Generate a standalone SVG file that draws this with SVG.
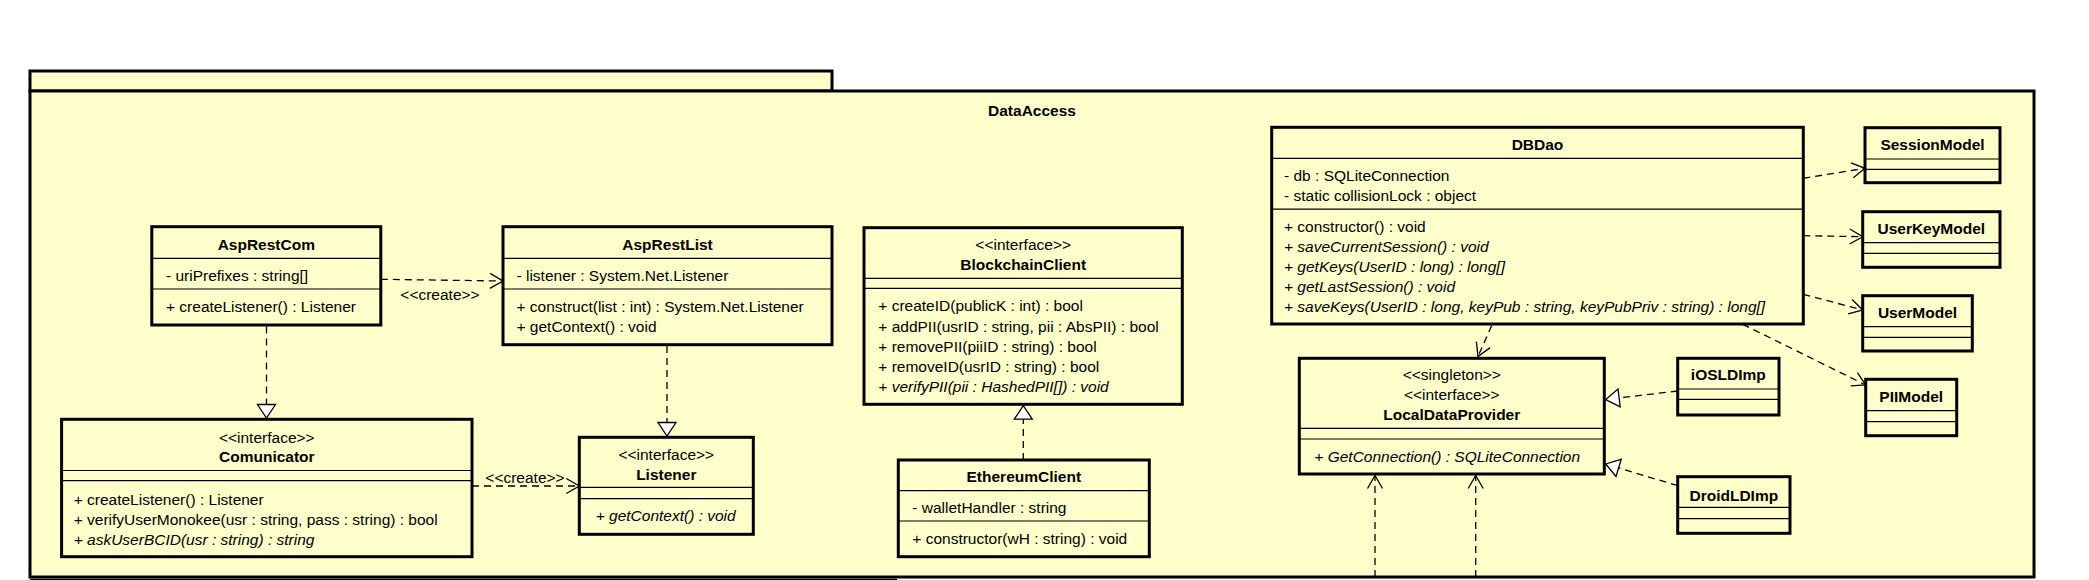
<svg xmlns="http://www.w3.org/2000/svg" width="2089" height="580" viewBox="0 0 2089 580">
<style>
.pkg{fill:#FFFFCC;stroke:#000;stroke-width:3}
.box{fill:#FFFFCC;stroke:#000;stroke-width:3}
.dv{stroke:#000;stroke-width:1.2;fill:none}
text{font-family:"Liberation Sans",Arial,sans-serif;font-size:15.5px;fill:#000}
.n{font-weight:bold;text-anchor:middle}
.c{text-anchor:middle}
.i{font-style:italic}
.dep{fill:none;stroke:#000;stroke-width:1.3;stroke-dasharray:7,5}
.mk{stroke:#000;stroke-width:1.3;stroke-dasharray:none}
</style>
<defs>
<marker id="open" markerUnits="userSpaceOnUse" markerWidth="20" markerHeight="20" refX="0" refY="0" orient="auto" style="overflow:visible"><path class="mk" d="M-13,-7.5 L0,0 L-13,7.5" fill="none"/></marker>
<marker id="tri" markerUnits="userSpaceOnUse" markerWidth="20" markerHeight="20" refX="0" refY="0" orient="auto" style="overflow:visible"><path class="mk" d="M-13.5,-9 L0,0 L-13.5,9 Z" fill="#fff"/></marker>
</defs>

<g id="DataAccess">
<rect class="pkg" x="30" y="71" width="802" height="20"/>
<rect class="pkg" x="30" y="91" width="2004" height="486"/>
<line x1="30" y1="579.5" x2="897" y2="579.5" stroke="#000" stroke-width="1.5"/>
<text class="n" x="1032" y="116">DataAccess</text>
</g>

<g id="AspRestCom">
<rect class="box" x="151.8" y="226.7" width="229" height="98.3"/>
<line class="dv" x1="151.8" y1="258.3" x2="380.8" y2="258.3"/>
<line class="dv" x1="151.8" y1="289" x2="380.8" y2="289"/>
<text class="n" x="266.3" y="249.8">AspRestCom</text>
<text x="166" y="281.3">- uriPrefixes : string[]</text>
<text x="166" y="312">+ createListener() : Listener</text>
</g>

<g id="AspRestList">
<rect class="box" x="503" y="226.7" width="329" height="118"/>
<line class="dv" x1="503" y1="258.3" x2="832" y2="258.3"/>
<line class="dv" x1="503" y1="289" x2="832" y2="289"/>
<text class="n" x="667.5" y="249.8">AspRestList</text>
<text x="516.5" y="281.3">- listener : System.Net.Listener</text>
<text x="516.5" y="312">+ construct(list : int) : System.Net.Listener</text>
<text x="516.5" y="332">+ getContext() : void</text>
</g>

<g id="Comunicator">
<rect class="box" x="61.6" y="419.3" width="410.4" height="137.4"/>
<line class="dv" x1="61.6" y1="470.5" x2="472" y2="470.5"/>
<line class="dv" x1="61.6" y1="480.7" x2="472" y2="480.7"/>
<text class="c" x="266.8" y="442.5">&lt;&lt;interface&gt;&gt;</text>
<text class="n" x="266.8" y="462">Comunicator</text>
<text x="73.7" y="504.7">+ createListener() : Listener</text>
<text x="73.7" y="524.7">+ verifyUserMonokee(usr : string, pass : string) : bool</text>
<text class="i" x="73.7" y="544.7">+ askUserBCID(usr : string) : string</text>
</g>

<g id="Listener">
<rect class="box" x="579.3" y="437.3" width="174" height="97"/>
<line class="dv" x1="579.3" y1="487.3" x2="753.3" y2="487.3"/>
<line class="dv" x1="579.3" y1="498.7" x2="753.3" y2="498.7"/>
<text class="c" x="666.3" y="459.6">&lt;&lt;interface&gt;&gt;</text>
<text class="n" x="666.3" y="480.2">Listener</text>
<text class="i" x="595.7" y="521.2">+ getContext() : void</text>
</g>

<g id="BlockchainClient">
<rect class="box" x="864" y="227.7" width="318.3" height="176.6"/>
<line class="dv" x1="864" y1="278.3" x2="1182.3" y2="278.3"/>
<line class="dv" x1="864" y1="288.3" x2="1182.3" y2="288.3"/>
<text class="c" x="1023.2" y="250.2">&lt;&lt;interface&gt;&gt;</text>
<text class="n" x="1023.2" y="269.8">BlockchainClient</text>
<text x="878.3" y="311.3">+ createID(publicK : int) : bool</text>
<text x="878.3" y="331.5">+ addPII(usrID : string, pii : AbsPII) : bool</text>
<text x="878.3" y="351.8">+ removePII(piiID : string) : bool</text>
<text x="878.3" y="371.8">+ removeID(usrID : string) : bool</text>
<text class="i" x="878.3" y="391.8">+ verifyPII(pii : HashedPII[]) : void</text>
</g>

<g id="EthereumClient">
<rect class="box" x="898.3" y="460" width="251" height="96.7"/>
<line class="dv" x1="898.3" y1="490.7" x2="1149.3" y2="490.7"/>
<line class="dv" x1="898.3" y1="521" x2="1149.3" y2="521"/>
<text class="n" x="1023.8" y="482.2">EthereumClient</text>
<text x="912.3" y="513">- walletHandler : string</text>
<text x="912.3" y="543.7">+ constructor(wH : string) : void</text>
</g>

<g id="DBDao">
<rect class="box" x="1271.7" y="127.3" width="531.6" height="196.7"/>
<line class="dv" x1="1271.7" y1="158.3" x2="1803.3" y2="158.3"/>
<line class="dv" x1="1271.7" y1="209.2" x2="1803.3" y2="209.2"/>
<text class="n" x="1537.5" y="150.3">DBDao</text>
<text x="1284" y="181">- db : SQLiteConnection</text>
<text x="1284" y="201">- static collisionLock : object</text>
<text x="1284" y="232">+ constructor() : void</text>
<text class="i" x="1284" y="252">+ saveCurrentSession() : void</text>
<text class="i" x="1284" y="272">+ getKeys(UserID : long) : long[]</text>
<text class="i" x="1284" y="292">+ getLastSession() : void</text>
<text class="i" x="1284" y="312">+ saveKeys(UserID : long, keyPub : string, keyPubPriv : string) : long[]</text>
</g>

<g id="SessionModel">
<rect class="box" x="1865" y="127.7" width="135" height="55"/>
<line class="dv" x1="1865" y1="159" x2="2000" y2="159"/>
<line class="dv" x1="1865" y1="169.3" x2="2000" y2="169.3"/>
<text class="n" x="1932.5" y="149.6">SessionModel</text>
</g>

<g id="UserKeyModel">
<rect class="box" x="1862.7" y="211.7" width="137.3" height="55.6"/>
<line class="dv" x1="1862.7" y1="242.7" x2="2000" y2="242.7"/>
<line class="dv" x1="1862.7" y1="253.3" x2="2000" y2="253.3"/>
<text class="n" x="1931.3" y="233.6">UserKeyModel</text>
</g>

<g id="UserModel">
<rect class="box" x="1862.7" y="295.7" width="109.6" height="55.3"/>
<line class="dv" x1="1862.7" y1="326.7" x2="1972.3" y2="326.7"/>
<line class="dv" x1="1862.7" y1="337.3" x2="1972.3" y2="337.3"/>
<text class="n" x="1917.5" y="317.6">UserModel</text>
</g>

<g id="PIIModel">
<rect class="box" x="1865.7" y="379.3" width="91" height="56.4"/>
<line class="dv" x1="1865.7" y1="410.7" x2="1956.7" y2="410.7"/>
<line class="dv" x1="1865.7" y1="421.7" x2="1956.7" y2="421.7"/>
<text class="n" x="1911.2" y="402">PIIModel</text>
</g>

<g id="LocalDataProvider">
<rect class="box" x="1299.3" y="358.3" width="305" height="115.7"/>
<line class="dv" x1="1299.3" y1="428.3" x2="1604.3" y2="428.3"/>
<line class="dv" x1="1299.3" y1="439" x2="1604.3" y2="439"/>
<text class="c" x="1451.8" y="380.3">&lt;&lt;singleton&gt;&gt;</text>
<text class="c" x="1451.8" y="400.3">&lt;&lt;interface&gt;&gt;</text>
<text class="n" x="1451.8" y="420.3">LocalDataProvider</text>
<text class="i" x="1314.3" y="462">+ GetConnection() : SQLiteConnection</text>
</g>

<g id="iOSLDImp">
<rect class="box" x="1677.7" y="358.3" width="101.3" height="56.7"/>
<line class="dv" x1="1677.7" y1="389" x2="1779" y2="389"/>
<line class="dv" x1="1677.7" y1="399.3" x2="1779" y2="399.3"/>
<text class="n" x="1728.3" y="380.3">iOSLDImp</text>
</g>

<g id="DroidLDImp">
<rect class="box" x="1677.7" y="476.7" width="112.3" height="56.6"/>
<line class="dv" x1="1677.7" y1="507.3" x2="1790" y2="507.3"/>
<line class="dv" x1="1677.7" y1="518.7" x2="1790" y2="518.7"/>
<text class="n" x="1733.8" y="501">DroidLDImp</text>
</g>

<g id="connectors">
<path class="dep" d="M380.8,279.3 L503,281" marker-end="url(#open)"/>
<text class="c" x="440" y="300.3">&lt;&lt;create&gt;&gt;</text>
<path class="dep" d="M266.5,326.5 L266.5,418" marker-end="url(#tri)"/>
<path class="dep" d="M667,346 L667,436" marker-end="url(#tri)"/>
<path class="dep" d="M472,486 L579.3,486" marker-end="url(#open)"/>
<text class="c" x="525" y="483">&lt;&lt;create&gt;&gt;</text>
<path class="dep" d="M1023.3,460 L1023.3,405.7" marker-end="url(#tri)"/>
<path class="dep" d="M1803.3,178.3 L1865,168.3" marker-end="url(#open)"/>
<path class="dep" d="M1803.3,235.7 L1862.7,236.7" marker-end="url(#open)"/>
<path class="dep" d="M1803.3,294.3 L1862.7,310" marker-end="url(#open)"/>
<path class="dep" d="M1742.7,324.3 L1865.7,385" marker-end="url(#open)"/>
<path class="dep" d="M1491.7,325.5 L1478,356.5" marker-end="url(#open)"/>
<path class="dep" d="M1677.7,391 L1605.7,399.5" marker-end="url(#tri)"/>
<path class="dep" d="M1677.7,485.7 L1605.7,464" marker-end="url(#tri)"/>
<path class="dep" d="M1375,577 L1375,475.5" marker-end="url(#open)"/>
<path class="dep" d="M1475.7,577 L1475.7,475.5" marker-end="url(#open)"/>
</g>
</svg>
